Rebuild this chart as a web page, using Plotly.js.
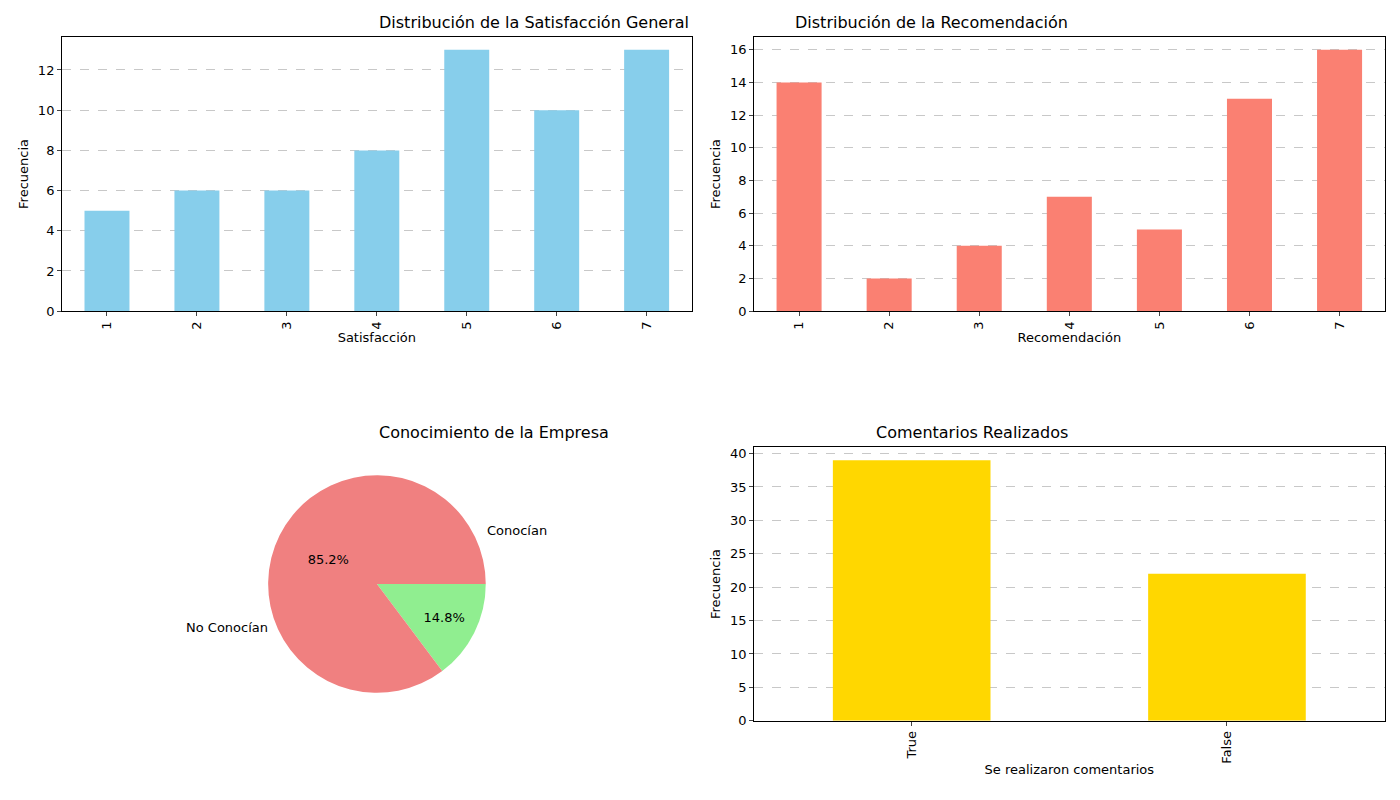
<!DOCTYPE html>
<html><head><meta charset="utf-8">
<script src="https://cdn.plot.ly/plotly-3.0.1.min.js"></script>
<style>body{margin:0}#g{width:1400px;height:800px}</style>
</head><body><div id="g"></div>
<script>
const scoreCats = ['1','2','3','4','5','6','7'];
const satisfaccion = [5, 6, 6, 8, 13, 10, 13];
const recomendacion = [14, 2, 4, 7, 5, 13, 16];
const pieLabels = ['Conocían', 'No Conocían'];
const pieValues = [9, 52];
const comentCats = ['True', 'False'];
const comentarios = [39, 22];

const font = {family: 'DejaVu Sans', size: 13, color: '#000'};
function xax(dom, anchor, title) {
  return {domain: dom, anchor: anchor, type: 'category', tickangle: -90, showline: true, mirror: true,
    linecolor: '#000', ticks: 'outside', ticklen: 4, showgrid: false,
    title: {text: title, font: font, standoff: 2}};
}
function yax(dom, anchor, dtick) {
  return {domain: dom, anchor: anchor, showline: true, mirror: true, linecolor: '#000',
    ticks: 'outside', ticklen: 4, dtick: dtick, rangemode: 'tozero', zeroline: false,
    gridcolor: '#c8c8c8', griddash: 'dash',
    title: {text: 'Frecuencia', font: font, standoff: 6}};
}
const traces = [
  {type: 'bar', x: scoreCats, y: satisfaccion, marker: {color: '#87CEEB'}, width: 0.5, xaxis: 'x', yaxis: 'y'},
  {type: 'bar', x: scoreCats, y: recomendacion, marker: {color: '#FA8072'}, width: 0.5, xaxis: 'x2', yaxis: 'y2'},
  {type: 'bar', x: comentCats, y: comentarios, marker: {color: '#FFD700'}, width: 0.5, xaxis: 'x3', yaxis: 'y3'},
  {type: 'pie', labels: pieLabels, values: pieValues, sort: false, direction: 'counterclockwise', rotation: 90,
    marker: {colors: ['#90EE90', '#F08080']}, textinfo: 'percent', texttemplate: '%{percent:.1%}',
    textposition: 'inside', insidetextorientation: 'horizontal', textfont: {family: 'DejaVu Sans', size: 13, color: '#000'},
    domain: {x: [0.1914, 0.3471], y: [0.134, 0.406]}, showlegend: false, hoverinfo: 'label+percent'}
];
const tfont = {family: 'DejaVu Sans', size: 16, color: '#000'};
const layout = {
  width: 1400, height: 800, margin: {l: 0, r: 0, t: 0, b: 0}, showlegend: false,
  paper_bgcolor: '#fff', plot_bgcolor: '#fff', font: font, bargap: 0.5,
  xaxis: xax([0.0443, 0.494], 'y', 'Satisfacción'),
  yaxis: Object.assign(yax([0.611, 0.954], 'x', 2), {range: [0, 13.65]}),
  xaxis2: xax([0.5386, 0.989], 'y2', 'Recomendación'),
  yaxis2: Object.assign(yax([0.611, 0.954], 'x2', 2), {range: [0, 16.8]}),
  xaxis3: xax([0.5386, 0.989], 'y3', 'Se realizaron comentarios'),
  yaxis3: Object.assign(yax([0.099, 0.441], 'x3', 5), {range: [0, 40.95]}),
  annotations: [
    {text: 'Distribución de la Satisfacción General', x: 0.269, y: 0.954, xref: 'paper', yref: 'paper', yanchor: 'bottom', yshift: 3, showarrow: false, font: tfont},
    {text: 'Distribución de la Recomendación', x: 0.764, y: 0.954, xref: 'paper', yref: 'paper', yanchor: 'bottom', yshift: 3, showarrow: false, font: tfont},
    {text: 'Comentarios Realizados', x: 0.764, y: 0.441, xref: 'paper', yref: 'paper', yanchor: 'bottom', yshift: 3, showarrow: false, font: tfont},
    {text: 'Conocimiento de la Empresa', x: 0.269, y: 0.441, xref: 'paper', yref: 'paper', yanchor: 'bottom', yshift: 3, showarrow: false, font: tfont},
    {text: 'Conocían', x: 0.3464, y: 0.3375, xref: 'paper', yref: 'paper', xanchor: 'left', showarrow: false, font: font},
    {text: 'No Conocían', x: 0.1929, y: 0.2037, xref: 'paper', yref: 'paper', xanchor: 'right', showarrow: false, font: font}
  ]
};
Plotly.newPlot('g', traces, layout, {displayModeBar: false});
</script></body></html>
